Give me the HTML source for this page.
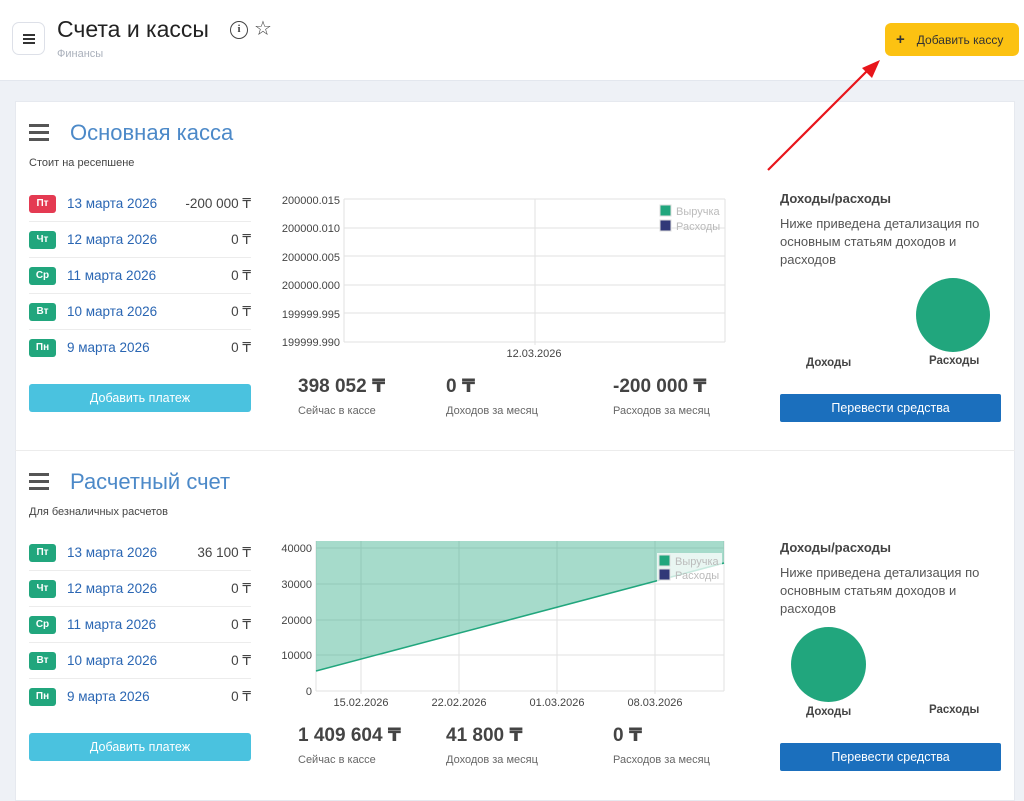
<!DOCTYPE html>
<html><head><meta charset="utf-8"><style>
*{margin:0;padding:0;box-sizing:border-box}
body{width:1024px;height:797px;overflow:hidden;background:#eef1f6;font-family:"Liberation Sans","DejaVu Sans",sans-serif;position:relative;color:#333}
.a{position:absolute;white-space:nowrap}
.hdr{position:absolute;left:0;top:0;width:1024px;height:81px;background:#fff;border-bottom:1px solid #e3e7ee}
.card{position:absolute;left:15px;top:101px;width:1000px;height:700px;background:#fff;border:1px solid #e6e9ef}
.badge{position:absolute;width:27px;height:18px;border-radius:3px;color:#fff;font-size:10px;font-weight:bold;text-align:center;line-height:18px;background:#21a67d}
.date{font-size:13.5px;color:#2a66b3}
.amt{font-size:13.5px;color:#444;text-align:right;width:120px}
.sep{position:absolute;left:29px;width:222px;height:1px;background:#ececec}
.btnc{position:absolute;left:29px;width:222px;height:28px;background:#4ac2df;border-radius:3px;color:#fff;font-size:12.5px;text-align:center;line-height:28px}
.btnb{position:absolute;left:780px;width:221px;height:28px;background:#1b6fbd;border-radius:2px;color:#fff;font-size:12.5px;text-align:center;line-height:28px}
.big{font-size:19px;font-weight:bold;color:#444}
.sm{font-size:11px;color:#666}
.t1{color:#4c89c8}
.ham{position:absolute;width:20px;height:17px;border-top:3px solid #555;border-bottom:3px solid #555}
.ham:after{content:"";position:absolute;left:0;right:0;top:4px;height:3px;background:#555}
</style></head><body>
<div class="hdr"></div>
<div class="a" style="left:12px;top:22px;width:33px;height:33px;border:1.5px solid #dde0e8;border-radius:7px;background:#fff"></div>
<div class="a" style="left:23px;top:34px;width:12px;height:10px;border-top:2px solid #333;border-bottom:2px solid #333"><div style="margin-top:2px;height:2px;background:#333"></div></div>
<div class="a" style="left:57px;top:16px;font-size:23px;color:#222">Счета и кассы</div>
<div class="a" style="left:230px;top:21px;width:18px;height:18px;border:1.6px solid #444;border-radius:50%;font-size:11px;font-weight:bold;text-align:center;line-height:15px;color:#444;font-family:'Liberation Serif',serif">i</div>
<div class="a" style="left:254px;top:16px;font-size:20px;color:#444">☆</div>
<div class="a" style="left:57px;top:48px;font-size:11px;color:#aab0bb">Финансы</div>
<div class="a" style="left:885px;top:23px;width:134px;height:33px;background:#fcc212;border-radius:6px;font-size:12px;color:#333;line-height:33px;padding-left:11px"><b style="font-size:15px;margin-right:12px">+</b>Добавить кассу</div>
<div class="card"></div>
<svg class="a" style="left:0;top:0" width="1024" height="200"><line x1="768" y1="170" x2="870" y2="68" stroke="#e8151b" stroke-width="2.2"/><polygon points="880,60 862,68 872,78" fill="#e8151b"/></svg>
<div class="a" style="left:15px;top:450px;width:1000px;height:1px;background:#ececec"></div>

<!-- section 1 -->
<div class="ham" style="left:29px;top:124px"></div>
<div class="a t1" style="left:70px;top:120px;font-size:22px">Основная касса</div>
<div class="a sm" style="left:29px;top:157px;color:#444">Стоит на ресепшене</div>
<div class="badge" style="left:29px;top:195px;background:#e43a52">Пт</div><div class="a date" style="left:67px;top:196px">13 марта 2026</div><div class="a amt" style="left:131px;top:196px">-200 000 ₸</div>
<div class="sep" style="top:221px"></div>
<div class="badge" style="left:29px;top:231px">Чт</div><div class="a date" style="left:67px;top:232px">12 марта 2026</div><div class="a amt" style="left:131px;top:232px">0 ₸</div>
<div class="sep" style="top:257px"></div>
<div class="badge" style="left:29px;top:267px">Ср</div><div class="a date" style="left:67px;top:268px">11 марта 2026</div><div class="a amt" style="left:131px;top:268px">0 ₸</div>
<div class="sep" style="top:293px"></div>
<div class="badge" style="left:29px;top:303px">Вт</div><div class="a date" style="left:67px;top:304px">10 марта 2026</div><div class="a amt" style="left:131px;top:304px">0 ₸</div>
<div class="sep" style="top:329px"></div>
<div class="badge" style="left:29px;top:339px">Пн</div><div class="a date" style="left:67px;top:340px">9 марта 2026</div><div class="a amt" style="left:131px;top:340px">0 ₸</div>
<div class="btnc" style="top:384px">Добавить платеж</div>

<svg class="a" style="left:270px;top:185px" width="470" height="180" font-family="Liberation Sans,sans-serif" font-size="11" fill="#444">
<g stroke="#e2e2e2" stroke-width="1"><line x1="74" y1="14" x2="455" y2="14"/><line x1="74" y1="43" x2="455" y2="43"/><line x1="74" y1="71" x2="455" y2="71"/><line x1="74" y1="100" x2="455" y2="100"/><line x1="74" y1="128" x2="455" y2="128"/><line x1="74" y1="157" x2="455" y2="157"/><line x1="74" y1="14" x2="74" y2="157"/><line x1="455" y1="14" x2="455" y2="157"/><line x1="265" y1="14" x2="265" y2="160"/></g>
<g text-anchor="end"><text x="70" y="19">200000.015</text><text x="70" y="47">200000.010</text><text x="70" y="76">200000.005</text><text x="70" y="104">200000.000</text><text x="70" y="133">199999.995</text><text x="70" y="161">199999.990</text></g>
<text x="264" y="172" text-anchor="middle">12.03.2026</text>
<rect x="390" y="20" width="11" height="11" fill="#21a67d" stroke="#ddd"/><text x="406" y="30" fill="#bbb">Выручка</text>
<rect x="390" y="35" width="11" height="11" fill="#313978" stroke="#ddd"/><text x="406" y="45" fill="#bbb">Расходы</text>
</svg>
<div class="a big" style="left:298px;top:375px">398 052 ₸</div><div class="a sm" style="left:298px;top:405px">Сейчас в кассе</div>
<div class="a big" style="left:446px;top:375px">0 ₸</div><div class="a sm" style="left:446px;top:405px">Доходов за месяц</div>
<div class="a big" style="left:613px;top:375px">-200 000 ₸</div><div class="a sm" style="left:613px;top:405px">Расходов за месяц</div>

<div class="a" style="left:780px;top:191px;font-size:13px;font-weight:bold;color:#444">Доходы/расходы</div>
<div class="a" style="left:780px;top:215px;font-size:13px;color:#555;line-height:18px;white-space:normal;width:220px">Ниже приведена детализация по основным статьям доходов и расходов</div>
<div class="a" style="left:916px;top:278px;width:74px;height:74px;border-radius:50%;background:#21a67d"></div>
<div class="a" style="left:806px;top:357px;font-size:11.5px;font-weight:bold;color:#444">Доходы</div>
<div class="a" style="left:929px;top:355px;font-size:11.5px;font-weight:bold;color:#444">Расходы</div>
<div class="btnb" style="top:394px">Перевести средства</div>

<!-- section 2 -->
<div class="ham" style="left:29px;top:473px"></div>
<div class="a t1" style="left:70px;top:469px;font-size:22px">Расчетный счет</div>
<div class="a sm" style="left:29px;top:506px;color:#444">Для безналичных расчетов</div>
<div class="badge" style="left:29px;top:544px">Пт</div><div class="a date" style="left:67px;top:545px">13 марта 2026</div><div class="a amt" style="left:131px;top:545px">36 100 ₸</div>
<div class="sep" style="top:570px"></div>
<div class="badge" style="left:29px;top:580px">Чт</div><div class="a date" style="left:67px;top:581px">12 марта 2026</div><div class="a amt" style="left:131px;top:581px">0 ₸</div>
<div class="sep" style="top:606px"></div>
<div class="badge" style="left:29px;top:616px">Ср</div><div class="a date" style="left:67px;top:617px">11 марта 2026</div><div class="a amt" style="left:131px;top:617px">0 ₸</div>
<div class="sep" style="top:642px"></div>
<div class="badge" style="left:29px;top:652px">Вт</div><div class="a date" style="left:67px;top:653px">10 марта 2026</div><div class="a amt" style="left:131px;top:653px">0 ₸</div>
<div class="sep" style="top:678px"></div>
<div class="badge" style="left:29px;top:688px">Пн</div><div class="a date" style="left:67px;top:689px">9 марта 2026</div><div class="a amt" style="left:131px;top:689px">0 ₸</div>
<div class="btnc" style="top:733px">Добавить платеж</div>

<svg class="a" style="left:270px;top:530px" width="470" height="185" font-family="Liberation Sans,sans-serif" font-size="11" fill="#444">
<g stroke="#e2e2e2" stroke-width="1"><line x1="46" y1="18" x2="454" y2="18"/><line x1="46" y1="54" x2="454" y2="54"/><line x1="46" y1="90" x2="454" y2="90"/><line x1="46" y1="125" x2="454" y2="125"/><line x1="46" y1="161" x2="454" y2="161"/><line x1="46" y1="11" x2="46" y2="161"/><line x1="91" y1="11" x2="91" y2="164"/><line x1="189" y1="11" x2="189" y2="164"/><line x1="287" y1="11" x2="287" y2="164"/><line x1="385" y1="11" x2="385" y2="164"/><line x1="454" y1="11" x2="454" y2="161"/></g>
<polygon points="46,11 454,11 454,33 46,141" fill="#21a67d" fill-opacity="0.4"/>
<line x1="46" y1="141" x2="454" y2="33" stroke="#21a67d" stroke-width="1.5"/>
<g text-anchor="end"><text x="42" y="22">40000</text><text x="42" y="58">30000</text><text x="42" y="94">20000</text><text x="42" y="129">10000</text><text x="42" y="165">0</text></g>
<g text-anchor="middle"><text x="91" y="176">15.02.2026</text><text x="189" y="176">22.02.2026</text><text x="287" y="176">01.03.2026</text><text x="385" y="176">08.03.2026</text></g>
<rect x="387" y="23" width="65" height="30" fill="#fff" fill-opacity="0.75"/>
<rect x="389" y="25" width="11" height="11" fill="#21a67d" stroke="#ddd"/><text x="405" y="35" fill="#bbb">Выручка</text>
<rect x="389" y="39" width="11" height="11" fill="#313978" stroke="#ddd"/><text x="405" y="49" fill="#bbb">Расходы</text>
</svg>
<div class="a big" style="left:298px;top:724px">1 409 604 ₸</div><div class="a sm" style="left:298px;top:754px">Сейчас в кассе</div>
<div class="a big" style="left:446px;top:724px">41 800 ₸</div><div class="a sm" style="left:446px;top:754px">Доходов за месяц</div>
<div class="a big" style="left:613px;top:724px">0 ₸</div><div class="a sm" style="left:613px;top:754px">Расходов за месяц</div>

<div class="a" style="left:780px;top:540px;font-size:13px;font-weight:bold;color:#444">Доходы/расходы</div>
<div class="a" style="left:780px;top:564px;font-size:13px;color:#555;line-height:18px;white-space:normal;width:220px">Ниже приведена детализация по основным статьям доходов и расходов</div>
<div class="a" style="left:791px;top:627px;width:75px;height:75px;border-radius:50%;background:#21a67d"></div>
<div class="a" style="left:806px;top:706px;font-size:11.5px;font-weight:bold;color:#444">Доходы</div>
<div class="a" style="left:929px;top:704px;font-size:11.5px;font-weight:bold;color:#444">Расходы</div>
<div class="btnb" style="top:743px">Перевести средства</div>
</body></html>
